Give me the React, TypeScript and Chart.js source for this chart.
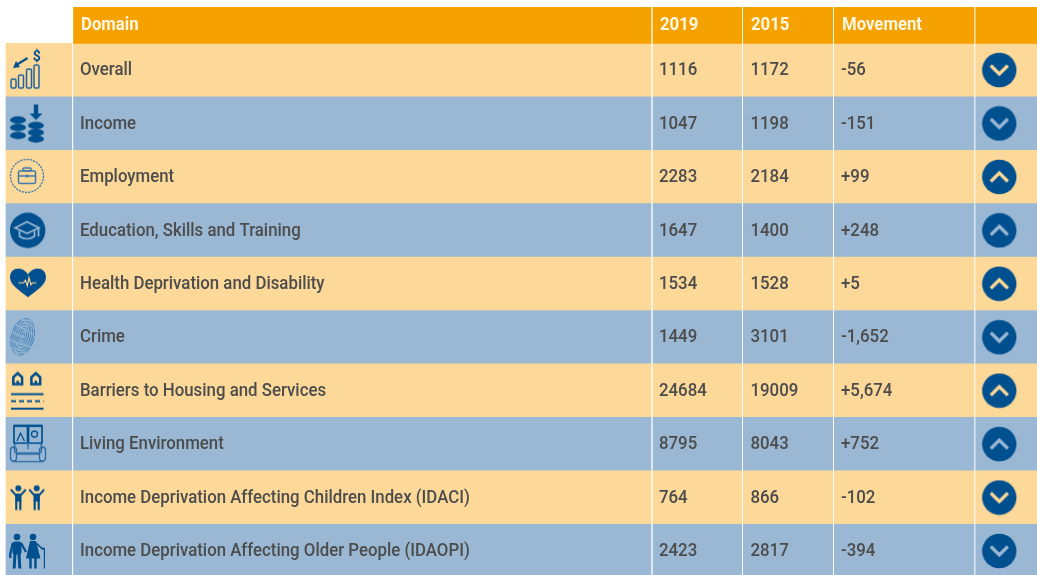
import React, { useEffect, useRef } from "react";
import { Chart, registerables } from "chart.js";

Chart.register(...registerables);

const headers = ["", "Domain", "2019", "2015", "Movement", ""];
const domains = [
  "Overall",
  "Income",
  "Employment",
  "Education, Skills and Training",
  "Health Deprivation and Disability",
  "Crime",
  "Barriers to Housing and Services",
  "Living Environment",
  "Income Deprivation Affecting Children Index (IDACI)",
  "Income Deprivation Affecting Older People (IDAOPI)",
];
const values2019 = ["1116", "1047", "2283", "1647", "1534", "1449", "24684", "8795", "764", "2423"];
const values2015 = ["1172", "1198", "2184", "1400", "1528", "3101", "19009", "8043", "866", "2817"];
const movements = ["-56", "-151", "+99", "+248", "+5", "-1,652", "+5,674", "+752", "-102", "-394"];
const directions = ["down", "down", "up", "up", "up", "down", "up", "up", "down", "down"];

// layout of the table on the x scale (px-like units)
const columnStarts = [6, 73.5, 653, 743.3, 834.3, 975.7];
const columnEnds = [71.7, 651, 741.7, 832.7, 974, 1037];
const textX = [0, 80, 659, 750.5, 841];
const headerTextX = [0, 81, 660, 751, 842];
const ROW_H = 53.4;
const Y_MIN = -0.68;
const Y_MAX = 9.95;
const TEXT_SQUEEZE = 0.9;
const HEADER_SQUEEZE = 0.93;

const PEACH = "#fcd899";
const BLUE = "#9ab8d3";
const ORANGE = "#f5a200";
const NAVY = "#00508f";
const INK = "#4c4c4c";

const rowColor = (i: number) => (i % 2 === 0 ? PEACH : BLUE);

type Draw = (c: CanvasRenderingContext2D, bg: string) => void;

const line = (c: CanvasRenderingContext2D, pts: number[][], close = false) => {
  c.beginPath();
  pts.forEach((p, i) => (i ? c.lineTo(p[0], p[1]) : c.moveTo(p[0], p[1])));
  if (close) c.closePath();
};

const coin = (c: CanvasRenderingContext2D, x: number, y: number) => {
  c.beginPath();
  c.ellipse(x, y, 8, 3.7, 0, 0, Math.PI * 2);
  c.fill();
};

const person = (c: CanvasRenderingContext2D, x: number) => {
  c.beginPath();
  c.arc(x, -9.2, 3, 0, Math.PI * 2);
  c.fill();
  c.lineWidth = 2;
  line(c, [[x - 7.5, -8], [x - 3, -3], [x + 3, -3], [x + 7.5, -8]]);
  c.stroke();
  c.fillRect(x - 3.2, -4, 6.4, 8);
  c.lineWidth = 2.2;
  line(c, [[x - 2, 3], [x - 2, 12.5]]);
  c.stroke();
  line(c, [[x + 2, 3], [x + 2, 12.5]]);
  c.stroke();
};

const icons: Draw[] = [
  (c) => {
    c.strokeStyle = "#1e64a4";
    c.lineWidth = 1.5;
    [[11, 9, 9], [18.5, 5, 13], [26.5, -1, 19], [34, -5, 23]].forEach(([x, y, h]) => {
      c.beginPath();
      c.roundRect(x, y, 5, h, 1.5);
      c.stroke();
    });
    c.fillStyle = NAVY;
    c.font = "bold 14px Roboto";
    c.textAlign = "center";
    c.textBaseline = "middle";
    c.fillText("$", 36.8, -13);
    c.lineWidth = 2.2;
    c.strokeStyle = NAVY;
    line(c, [[27.5, -12], [17, -5.5]]);
    c.stroke();
    line(c, [[13, -2], [20, -3], [16, -9]], true);
    c.fill();
  },
  (c) => {
    c.fillStyle = NAVY;
    [-3.5, 4, 12].forEach((y) => coin(c, 18, y));
    [2, 9, 15.5].forEach((y) => coin(c, 36, y));
    c.fillRect(33.8, -19, 4.4, 10);
    line(c, [[29.5, -10], [42.5, -10], [36, -3.5]], true);
    c.fill();
  },
  (c) => {
    c.strokeStyle = "#3f78ad";
    c.lineWidth = 1.3;
    c.setLineDash([2.2, 1]);
    c.beginPath();
    c.arc(27, -1, 16.5, 0, Math.PI * 2);
    c.stroke();
    c.setLineDash([]);
    c.lineWidth = 1.5;
    c.beginPath();
    c.roundRect(18.5, -6, 17, 12.5, 1.5);
    c.stroke();
    c.beginPath();
    c.roundRect(23, -9, 8, 3, 1);
    c.stroke();
    line(c, [[18.5, -1], [35.5, -1]]);
    c.stroke();
    c.fillStyle = "#3f78ad";
    c.fillRect(25.5, -2.2, 3, 2.6);
  },
  (c, bg) => {
    c.fillStyle = NAVY;
    c.beginPath();
    c.arc(27.7, 0, 17.7, 0, Math.PI * 2);
    c.fill();
    c.strokeStyle = bg;
    c.lineWidth = 1.7;
    line(c, [[15, -2.5], [27, -8.5], [39, -2.5], [27, 3]], true);
    c.stroke();
    c.beginPath();
    c.moveTo(19.5, 0.5);
    c.lineTo(19.5, 6);
    c.quadraticCurveTo(27, 11, 34.5, 6);
    c.lineTo(34.5, 0.5);
    c.stroke();
    line(c, [[38.5, -2.5], [38.5, 6]]);
    c.stroke();
  },
  (c, bg) => {
    c.fillStyle = NAVY;
    c.beginPath();
    c.moveTo(28, 13.5);
    c.bezierCurveTo(20, 7, 10, 1, 10, -6.5);
    c.bezierCurveTo(10, -17.5, 23, -18, 28, -9.5);
    c.bezierCurveTo(33, -18, 46, -17.5, 46, -6.5);
    c.bezierCurveTo(46, 1, 36, 7, 28, 13.5);
    c.fill();
    c.strokeStyle = bg;
    c.lineWidth = 1.2;
    line(c, [[18.5, -1], [23.5, -1], [25.5, -3.5], [27.3, 2], [29, -6], [31, 1], [32.5, -1], [36.5, -1]]);
    c.stroke();
  },
  (c) => {
    c.save();
    c.translate(22.7, -0.5);
    c.rotate(0.27);
    c.strokeStyle = "#4d86bb";
    c.lineWidth = 1.1;
    c.setLineDash([7, 1.3]);
    [[1.5, 3.5], [3.5, 6.5], [5.5, 9.5], [7.5, 12.5], [9.5, 15.5], [11.2, 18.5]].forEach(([rx, ry]) => {
      c.beginPath();
      c.ellipse(0, 0, rx, ry, 0, 0, Math.PI * 2);
      c.stroke();
    });
    c.restore();
  },
  (c) => {
    c.strokeStyle = NAVY;
    c.lineWidth = 2.5;
    [17.7, 35.8].forEach((x) => {
      line(c, [[x - 4.4, -6.5], [x - 4.4, -13.5], [x, -17.5], [x + 4.4, -13.5], [x + 4.4, -6.5]], true);
      c.stroke();
      c.fillStyle = NAVY;
      c.fillRect(x - 1.2, -10, 2.4, 4);
    });
    c.lineWidth = 2;
    line(c, [[11, 3.6], [43.5, 3.6]]);
    c.stroke();
    c.setLineDash([5, 3]);
    line(c, [[11, 10.6], [43.5, 10.6]]);
    c.stroke();
    c.setLineDash([]);
    line(c, [[11, 18], [43.5, 18]]);
    c.stroke();
  },
  (c) => {
    c.strokeStyle = NAVY;
    c.lineWidth = 1.7;
    c.strokeRect(14, -18, 13.5, 17);
    c.strokeRect(28.5, -18, 13.5, 17);
    c.lineWidth = 2;
    line(c, [[13.5, -18.5], [42.5, -18.5]]);
    c.stroke();
    c.lineWidth = 1.3;
    c.beginPath();
    c.arc(34.5, -10, 3, 0, Math.PI * 2);
    c.stroke();
    line(c, [[17, -3], [20.5, -11], [24.5, -3]]);
    c.stroke();
    c.strokeStyle = "#2a6aa5";
    c.lineWidth = 1.3;
    c.beginPath();
    c.roundRect(14.5, -1, 27, 10, 3);
    c.stroke();
    c.beginPath();
    c.roundRect(10.5, 3, 6, 14, 3);
    c.stroke();
    c.beginPath();
    c.roundRect(39.5, 3, 6, 14, 3);
    c.stroke();
    line(c, [[16.5, 10], [39.5, 10]]);
    c.stroke();
    line(c, [[13, 17.5], [43, 17.5]]);
    c.stroke();
    line(c, [[28, -1], [28, 5]]);
    c.stroke();
  },
  (c) => {
    c.fillStyle = NAVY;
    c.strokeStyle = NAVY;
    person(c, 18.3);
    person(c, 36.7);
  },
  (c) => {
    c.fillStyle = NAVY;
    c.strokeStyle = NAVY;
    c.beginPath();
    c.arc(17, -14, 3.3, 0, Math.PI * 2);
    c.fill();
    c.beginPath();
    c.arc(33, -14, 3.3, 0, Math.PI * 2);
    c.fill();
    // man
    c.beginPath();
    c.roundRect(12.5, -9.5, 9, 13, 2.5);
    c.fill();
    c.lineWidth = 2.3;
    line(c, [[12.8, -8], [10.3, 3], [10.3, 7]]);
    c.stroke();
    line(c, [[21, -8], [26, 1]]);
    c.stroke();
    c.lineWidth = 3;
    line(c, [[15, 2], [14.2, 17.5]]);
    c.stroke();
    line(c, [[19, 2], [19.8, 17.5]]);
    c.stroke();
    // woman
    line(c, [[30, -10], [36, -10], [40.5, 7.5], [26, 7.5]], true);
    c.fill();
    c.lineWidth = 2.5;
    line(c, [[30.5, 6], [30.5, 17.5]]);
    c.stroke();
    line(c, [[35.5, 6], [35.5, 17.5]]);
    c.stroke();
    c.lineWidth = 1.7;
    line(c, [[36, -8], [42.5, -2], [44, -3]]);
    c.stroke();
    c.lineWidth = 1.2;
    line(c, [[44.4, -3], [44.4, 17.5]]);
    c.stroke();
  },
];

function makeIcon(draw: Draw, bg: string): HTMLCanvasElement {
  const cv = document.createElement("canvas");
  cv.width = 66;
  cv.height = 54;
  const c = cv.getContext("2d")!;
  c.translate(-6, 27);
  draw(c, bg);
  return cv;
}

function makeBadge(dir: string, bg: string): HTMLCanvasElement {
  const cv = document.createElement("canvas");
  cv.width = 36;
  cv.height = 36;
  const c = cv.getContext("2d")!;
  c.fillStyle = NAVY;
  c.beginPath();
  c.arc(18, 18, 17.2, 0, Math.PI * 2);
  c.fill();
  c.strokeStyle = bg;
  c.lineWidth = 3.2;
  const s = dir === "down" ? 1 : -1;
  line(c, [[9.5, 18 - 4.5 * s], [18, 18 + 4 * s], [26.5, 18 - 4.5 * s]]);
  c.stroke();
  return cv;
}

const squeezedText = (ctx: CanvasRenderingContext2D, t: string, x: number, y: number, sx: number) => {
  ctx.save();
  ctx.translate(x, y);
  ctx.scale(sx, 1);
  ctx.fillText(t, 0, 0);
  ctx.restore();
};

const tablePlugin = {
  id: "tableText",
  afterDatasetsDraw(chart: any) {
    const { ctx, scales } = chart;
    const px = (v: number) => scales.x.getPixelForValue(v);
    const py = (v: number) => scales.y.getPixelForValue(v);
    ctx.save();
    ctx.textBaseline = "middle";
    ctx.textAlign = "left";
    ctx.fillStyle = "#fff6e4";
    ctx.font = "bold 18px Roboto";
    headers.forEach((h, i) => {
      if (h) squeezedText(ctx, h, px(headerTextX[i]), py(Y_MIN / 2) + 0.5, HEADER_SQUEEZE);
    });
    ctx.fillStyle = INK;
    ctx.font = "500 18.7px Roboto";
    domains.forEach((d, i) => {
      const y = py(i + 0.5) + 0.5;
      squeezedText(ctx, d, px(textX[1]), y, TEXT_SQUEEZE);
      squeezedText(ctx, values2019[i], px(textX[2]), y, TEXT_SQUEEZE);
      squeezedText(ctx, values2015[i], px(textX[3]), y, TEXT_SQUEEZE);
      squeezedText(ctx, movements[i], px(textX[4]), y, TEXT_SQUEEZE);
    });
    ctx.restore();
  },
};

export default function App() {
  const ref = useRef<HTMLCanvasElement>(null);
  useEffect(() => {
    const iconX = 39;
    const badgeX = 999.3;
    const rowBars: any[] = [];
    const rowBarColors: string[] = [];
    domains.forEach((_, r) => {
      columnStarts.forEach((s, k) => {
        rowBars.push({ x: [s, columnEnds[k]], y: r + 0.5 });
        rowBarColors.push(rowColor(r));
      });
    });
    const headerBars = columnStarts.slice(1).map((s, k) => ({
      x: [s, columnEnds[k + 1]],
      y: Y_MIN / 2,
    }));
    const chart = new Chart(ref.current!, {
      type: "bar",
      plugins: [tablePlugin],
      data: {
        datasets: [
          {
            label: "Icons",
            type: "line",
            showLine: false,
            order: 0,
            data: domains.map((_, i) => ({ x: iconX, y: i + 0.5 })),
            pointStyle: icons.map((d, i) => makeIcon(d, rowColor(i))),
            pointRadius: 10,
            clip: false,
          },
          {
            label: "Movement direction",
            type: "line",
            showLine: false,
            order: 0,
            data: directions.map((_, i) => ({ x: badgeX, y: i + 0.5 })),
            pointStyle: directions.map((d, i) => makeBadge(d, rowColor(i))),
            pointRadius: 10,
            clip: false,
          },
          {
            label: "Header",
            order: 1,
            data: headerBars,
            backgroundColor: ORANGE,
            barThickness: -Y_MIN * ROW_H,
            grouped: false,
          },
          {
            label: "Rows",
            order: 1,
            data: rowBars,
            backgroundColor: rowBarColors,
            barThickness: ROW_H,
            grouped: false,
          },
        ] as any,
      },
      options: {
        indexAxis: "y",
        animation: false,
        responsive: false,
        events: [],
        layout: { autoPadding: false, padding: { top: 7, left: 0, right: 0, bottom: 0 } },
        plugins: { legend: { display: false }, tooltip: { enabled: false } },
        scales: {
          x: { type: "linear", min: 0, max: 1037, display: false },
          y: { type: "linear", reverse: true, offset: false, min: Y_MIN, max: Y_MAX, display: false },
        },
      } as any,
    });
    return () => chart.destroy();
  }, []);
  return (
    <div style={{ position: "fixed", left: 0, top: 0, width: 1037, height: 575, background: "#fff" }}>
      <canvas
        ref={ref}
        width={1037}
        height={575}
        style={{ display: "block", width: 1037, height: 575, filter: "blur(0.65px)" }}
      />
    </div>
  );
}
